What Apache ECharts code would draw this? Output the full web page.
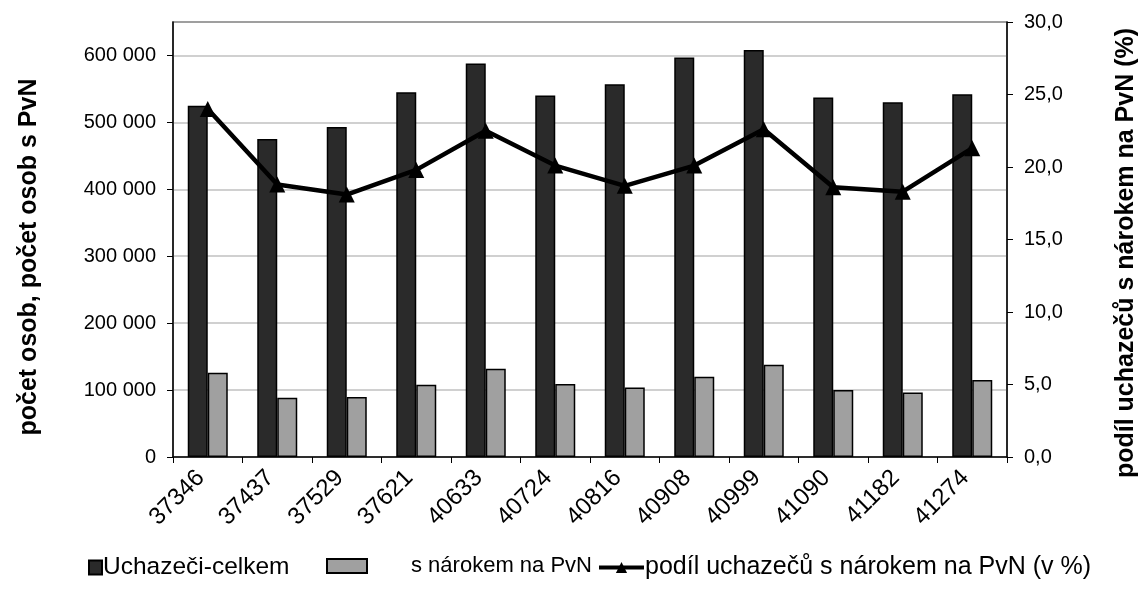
<!DOCTYPE html>
<html>
<head>
<meta charset="utf-8">
<script src="https://cdn.jsdelivr.net/npm/echarts@6/dist/echarts.min.js"></script>
<style>
html,body{margin:0;padding:0;background:#fff;}
#c{width:1139px;height:604px;}
</style>
</head>
<body>
<div id="c"></div>
<script>
const categories = ['37346','37437','37529','37621','40633','40724','40816','40908','40999','41090','41182','41274'];
const uchazeciCelkem = [525000, 475000, 493000, 545000, 588000, 540000, 557000, 597000, 608000, 537000, 530000, 542000];
const sNarokemPvN = [126000, 88500, 89600, 108000, 132000, 109000, 104000, 120000, 138000, 100000, 96400, 115000];
const podilPct = [24.0, 18.8, 18.1, 19.8, 22.5, 20.1, 18.7, 20.1, 22.6, 18.6, 18.3, 21.3];
const leftTicks = [0, 100000, 200000, 300000, 400000, 500000, 600000];
const rightTicks = [0, 5, 10, 15, 20, 25, 30];
const leftTitle = 'počet osob, počet osob s PvN';
const rightTitle = 'podíl uchazečů s nárokem na PvN (%)';

const FONT = '"Liberation Sans", Arial, sans-serif';
const chart = echarts.init(document.getElementById('c'), null, {renderer: 'canvas'});

function fmtThousands(v){ return String(v).replace(/\B(?=(\d{3})+(?!\d))/g, ' '); }
function fmtPct(v){ return v.toFixed(1).replace('.', ','); }

const legendText = {fontFamily: FONT, fontSize: 24.5, color: '#000'};

const option = {
  animation: false,
  backgroundColor: '#fff',
  textStyle: {fontFamily: FONT, color: '#000'},
  grid: {left: 173, right: 132, top: 22, bottom: 147, show: true, borderColor: '#808080', borderWidth: 1.5, containLabel: false},
  graphic: [
    {type: 'text', x: 29, y: 257, rotation: Math.PI / 2,
     style: {text: leftTitle, font: 'bold 25px "Liberation Sans", Arial, sans-serif', fill: '#000', align: 'center', verticalAlign: 'middle'}},
    {type: 'text', x: 1126, y: 253, rotation: Math.PI / 2,
     style: {text: rightTitle, font: 'bold 25px "Liberation Sans", Arial, sans-serif', fill: '#000', align: 'center', verticalAlign: 'middle'}}
  ],
  legend: [
    {data: [{name: 'Uchazeči-celkem', icon: 'rect'}], left: 88, top: 555, padding: 0, itemWidth: 13, itemHeight: 14,
     textStyle: Object.assign({}, legendText, {padding: [0,0,0,-4]})},
    {data: [{name: 's nárokem na PvN', icon: 'rect'}], left: 326, top: 555, padding: 0, itemWidth: 40, itemHeight: 14,
     textStyle: Object.assign({}, legendText, {fontSize: 22, padding: [0,0,0,39]})},
    {data: ['podíl uchazečů s nárokem na PvN (v %)'], left: 597, top: 555, padding: 0, itemWidth: 45, itemHeight: 14,
     lineStyle: {width: 4},
     textStyle: Object.assign({}, legendText, {fontSize: 25, padding: [0,0,0,-4]})}
  ],
  xAxis: {
    type: 'category',
    data: categories,
    boundaryGap: true,
    axisLine: {lineStyle: {color: '#000', width: 1.5}},
    axisTick: {show: true, length: 6, lineStyle: {color: '#000', width: 1}},
    axisLabel: {rotate: 45, fontSize: 24, margin: 10, padding: [0, 10, 0, 0], color: '#000', fontFamily: FONT},
    splitLine: {show: false}
  },
  yAxis: [
    {
      type: 'value', min: 0, max: 650000, interval: 50000, position: 'left',
      axisLine: {show: true, lineStyle: {color: '#000', width: 1.5}},
      axisTick: {show: true, length: 6, customValues: leftTicks, lineStyle: {color: '#000', width: 1}},
      axisLabel: {customValues: leftTicks, fontSize: 20, margin: 17, color: '#000', fontFamily: FONT, formatter: fmtThousands},
      splitLine: {show: true, lineStyle: {color: '#c0c0c0', width: 1.5}}
    },
    {
      type: 'value', min: 0, max: 30, interval: 5, position: 'right',
      axisLine: {show: true, lineStyle: {color: '#000', width: 1.5}},
      axisTick: {show: true, length: 6, customValues: rightTicks, lineStyle: {color: '#000', width: 1}},
      axisLabel: {customValues: rightTicks, fontSize: 20, margin: 17, color: '#000', fontFamily: FONT, formatter: fmtPct},
      splitLine: {show: false}
    }
  ],
  series: [
    {
      name: 'Uchazeči-celkem', type: 'bar', yAxisIndex: 0, data: uchazeciCelkem,
      barWidth: 20, barGap: '0%',
      itemStyle: {color: '#2a2a2a', borderColor: '#000', borderWidth: 1.5}
    },
    {
      name: 's nárokem na PvN', type: 'bar', yAxisIndex: 0, data: sNarokemPvN,
      barWidth: 20, barGap: '0%',
      itemStyle: {color: '#a0a0a0', borderColor: '#000', borderWidth: 1.5}
    },
    {
      name: 'podíl uchazečů s nárokem na PvN (v %)', type: 'line', yAxisIndex: 1, data: podilPct,
      symbol: 'triangle', symbolSize: 16, z: 5,
      lineStyle: {color: '#000', width: 4.5},
      itemStyle: {color: '#000'}
    }
  ]
};
chart.setOption(option);
</script>
</body>
</html>
